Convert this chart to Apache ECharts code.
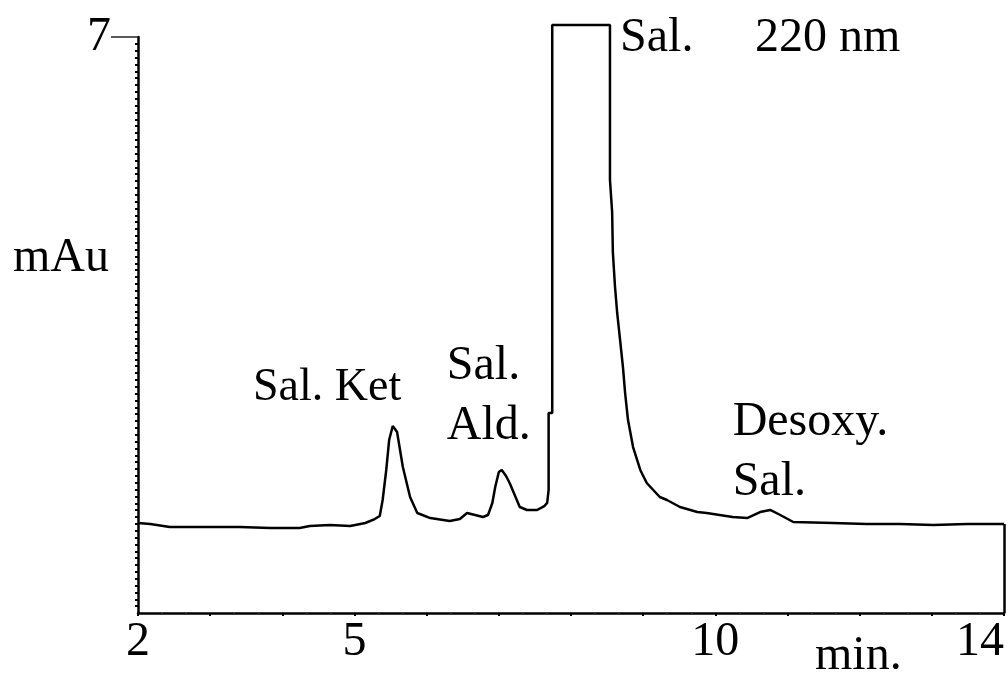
<!DOCTYPE html>
<html>
<head>
<meta charset="utf-8">
<script src="https://cdn.jsdelivr.net/npm/echarts@6/dist/echarts.min.js"></script>
<style>
  html, body { margin: 0; padding: 0; background: #fff; }
  #chart { width: 1008px; height: 677px; }
</style>
</head>
<body>
<div id="chart"></div>
<script>
// Chromatogram at 220 nm: retention time (min) and absorbance (mAu)
const retentionTime = [
  2.00, 2.17, 2.44, 2.86, 3.41, 3.83, 4.24, 4.38, 4.66, 4.94, 5.15, 5.28, 5.35, 5.39,
  5.44, 5.48, 5.53, 5.59, 5.67, 5.77, 5.87, 6.05, 6.32, 6.46, 6.56, 6.67, 6.78, 6.85,
  6.91, 6.95, 7.00, 7.04, 7.10, 7.15, 7.22, 7.29, 7.39, 7.53, 7.63, 7.67, 7.69, 7.69,
  7.74, 7.74, 8.54, 8.54, 8.57, 8.58, 8.61, 8.64, 8.68, 8.72, 8.75, 8.79, 8.86, 8.96,
  9.05, 9.14, 9.23, 9.33, 9.51, 9.75, 9.88, 10.24, 10.44, 10.62, 10.76, 10.90, 11.08,
  11.63, 12.10, 12.56, 13.02, 13.49, 13.94, 14.00
];
const absorbance = [
  1.094, 1.082, 1.045, 1.045, 1.045, 1.033, 1.033, 1.057, 1.069, 1.057, 1.094, 1.142, 1.179, 1.373,
  1.738, 2.102, 2.272, 2.200, 1.774, 1.410, 1.215, 1.154, 1.118, 1.142, 1.215, 1.191, 1.167, 1.191,
  1.337, 1.531, 1.713, 1.738, 1.665, 1.580, 1.434, 1.288, 1.252, 1.252, 1.300, 1.337, 1.495, 2.430,
  2.430, 7.146, 7.146, 5.262, 4.873, 4.387, 3.962, 3.646, 3.318, 2.989, 2.673, 2.345, 2.017, 1.738,
  1.580, 1.495, 1.410, 1.373, 1.288, 1.227, 1.215, 1.167, 1.154, 1.227, 1.252, 1.191, 1.106,
  1.094, 1.082, 1.082, 1.069, 1.082, 1.082, 1.082
];

// Axis ranges and labelled ticks
const timeRange = [2, 14];
const timeLabels = [2, 5, 10, 14];
const signalRange = [0, 7];
const signalLabels = [7];

// Peak annotations: text, position (time, signal), alignment and font size
const peakNames = ['Sal. Ket', 'Sal.\nAld.', 'Sal.', '220 nm', 'Desoxy.\nSal.'];
const peakTimes = [4.62, 6.28, 8.68, 10.55, 10.24];
const peakSignals = [2.74, 2.63, 6.98, 6.98, 1.95];
const peakAlign = ['center', 'left', 'left', 'left', 'left'];
const peakFontSize = [46, 48, 48, 48, 48];

const FONT = '"Liberation Serif", "Times New Roman", serif';
const series = retentionTime.map((t, i) => [t, absorbance[i]]);

const chart = echarts.init(document.getElementById('chart'), null, { renderer: 'canvas' });
chart.setOption({
  animation: false,
  backgroundColor: '#ffffff',
  grid: { left: 138, right: 4, top: 37, bottom: 64, containLabel: false },
  xAxis: {
    type: 'value',
    min: timeRange[0], max: timeRange[1], interval: 1,
    axisLine: { show: true, onZero: false, lineStyle: { color: '#000', width: 2.5 } },
    axisTick: { show: true, length: 3, lineStyle: { color: '#000', width: 2 } },
    minorTick: { show: true, splitNumber: 3, length: 2, lineStyle: { color: '#333', width: 1.5 } },
    axisLabel: {
      customValues: timeLabels, margin: 5, color: '#000',
      fontFamily: FONT, fontSize: 48, alignMaxLabel: 'right'
    },
    splitLine: { show: false }
  },
  yAxis: {
    type: 'value',
    min: signalRange[0], max: signalRange[1], interval: 7,
    axisLine: { show: true, onZero: false, lineStyle: { color: '#000', width: 2.5 } },
    axisTick: { show: true, customValues: signalLabels, length: 27, lineStyle: { color: '#222', width: 1.5 } },
    minorTick: { show: true, splitNumber: 84, length: 3, lineStyle: { color: '#000', width: 2 } },
    axisLabel: { customValues: signalLabels, margin: 27, color: '#000', fontFamily: FONT, fontSize: 48 },
    splitLine: { show: false }
  },
  graphic: [
    { type: 'text', left: 13, top: 234, style: { text: 'mAu', font: '48px ' + FONT, fill: '#000' } },
    { type: 'text', left: 815, top: 632, style: { text: 'min.', font: '48px ' + FONT, fill: '#000' } }
  ],
  series: [{
    type: 'line',
    data: series,
    showSymbol: false,
    clip: false,
    lineStyle: { color: '#000', width: 2.5 },
    markLine: {
      silent: true,
      symbol: 'none',
      lineStyle: { color: '#000', width: 2.5, type: 'solid' },
      label: { show: false },
      data: [[
        { coord: [timeRange[1], signalRange[0]] },
        { coord: [timeRange[1], absorbance[absorbance.length - 1]] }
      ]]
    },
    markPoint: {
      symbol: 'circle', symbolSize: 0,
      silent: true,
      label: {
        show: true, color: '#000', fontFamily: FONT, lineHeight: 60,
        verticalAlign: 'middle'
      },
      data: peakNames.map((name, i) => ({
        coord: [peakTimes[i], peakSignals[i]],
        label: { formatter: name, align: peakAlign[i], position: 'inside', fontSize: peakFontSize[i] }
      }))
    }
  }]
});
</script>
</body>
</html>
